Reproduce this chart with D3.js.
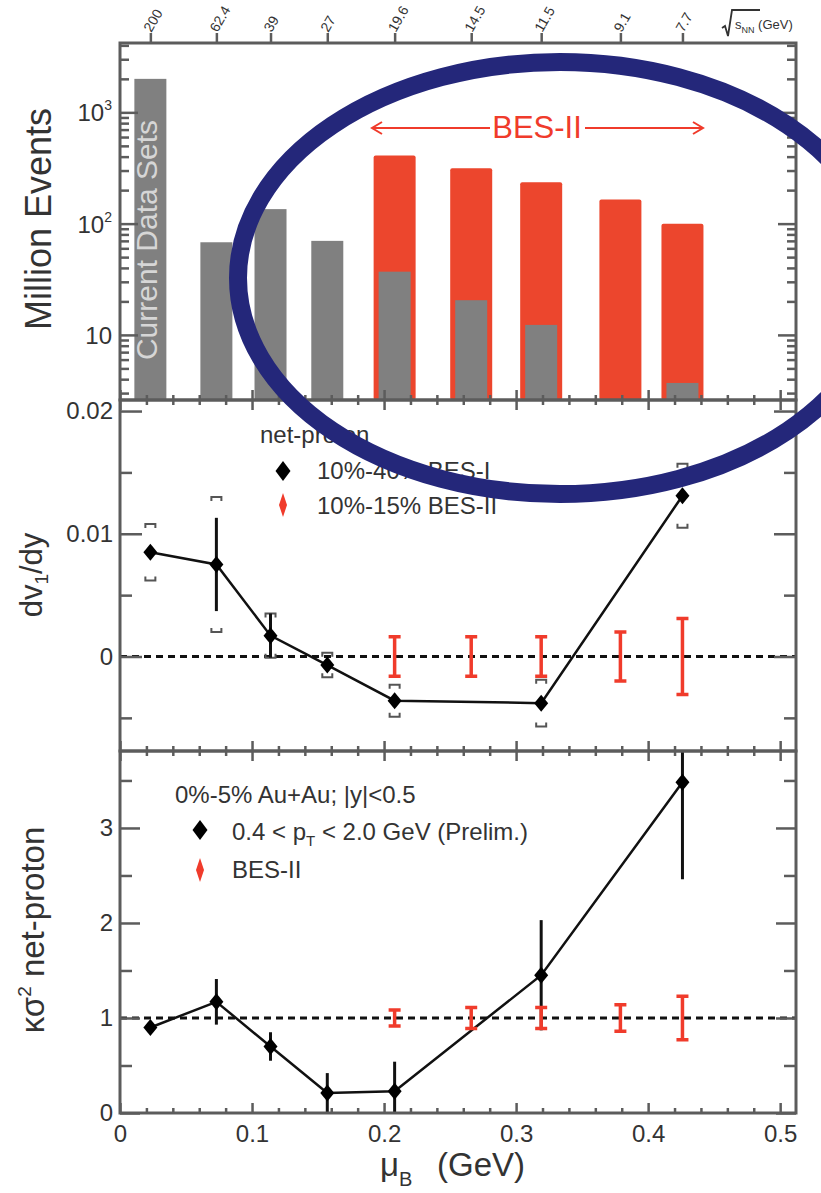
<!DOCTYPE html>
<html>
<head>
<meta charset="utf-8">
<script src="https://cdn.jsdelivr.net/npm/d3@7"></script>
<style>
  body { margin: 0; background: #fff; }
  svg { display: block; font-family: "Liberation Sans", Arial, Helvetica, sans-serif; }
</style>
</head>
<body>
<svg id="chart" width="821" height="1193"></svg>
<script>
// Collision energies (top axis) and the matching baryon chemical potential (GeV)
const energyLabels = ["200", "62.4", "39", "27", "19.6", "14.5", "11.5", "9.1", "7.7"];
const muB = [0.023, 0.073, 0.114, 0.157, 0.208, 0.266, 0.319, 0.379, 0.426];

// Event statistics (million events): existing data sets and BES-II goals
const eventsBES1 = [2000, 68, 135, 70, 37, 20.5, 12.3, null, 3.7];
const eventsBES2 = [null, null, null, null, 410, 315, 235, 165, 100];

// Net-proton directed-flow slope, 10%-40% BES-I
const dv1Value = [0.0085, 0.0075, 0.0017, -0.0007, -0.0036, null, -0.0038, null, 0.0131];
const dv1Stat  = [0.0003, 0.0038, 0.0018, 0.0003, 0.0003, null, 0.0003, null, 0.0003];
const dv1Sys   = [0.0023, 0.0055, 0.0018, 0.0010, 0.0013, null, 0.0019, null, 0.0026];
// Projected BES-II uncertainties (10%-15%), drawn around zero
const dv1ProjErr = [null, null, null, null, 0.0016, 0.0016, 0.0016, 0.0020, 0.0031];

// Net-proton kappa*sigma^2, 0%-5% Au+Au
const kappaValue = [0.90, 1.17, 0.70, 0.21, 0.23, null, 1.45, null, 3.48];
const kappaErr   = [0.06, 0.24, 0.15, 0.21, 0.31, null, 0.58, null, 1.02];
// Projected BES-II uncertainties, drawn around unity
const kappaProjErr = [null, null, null, null, 0.085, 0.11, 0.11, 0.14, 0.23];

// Axis tick values
const xMajor = [0, 0.1, 0.2, 0.3, 0.4, 0.5];
const xMinor = d3.range(1, 26).map(i => i * 0.02).filter((v, i) => (i + 1) % 5 !== 0);
const eventMajor = [10, 100, 1000];
const eventMinor = [3, 4, 5, 6, 7, 8, 9, 20, 30, 40, 50, 60, 70, 80, 90,
                    200, 300, 400, 500, 600, 700, 800, 900, 2000, 3000, 4000];
const dv1Major = [0, 0.01, 0.02];
const dv1Minor = [-0.005, 0.005, 0.015];
const kappaMajor = [0, 1, 2, 3];
const kappaMinor = [0.5, 1.5, 2.5, 3.5];

// ---- layout ----
const L = 120, R = 796;
const topP = [43, 400], midP = [400, 751], botP = [751, 1113];

const TEXT = "#333", FRAME = "#5c5c5c";
const GRAY = "#808080", RED_BAR = "#ec462d", RED = "#f03b2b";

const svg = d3.select("#chart");

const x = d3.scaleLinear().domain([0, 0.512]).range([L, R]);
const yEv = d3.scaleLog().domain([2.6, 4200]).range([topP[1], topP[0]]);
const yDv = d3.scaleLinear().domain([-0.0077, 0.0209]).range([midP[1], midP[0]]);
const yK = d3.scaleLinear().domain([0, 3.81]).range([botP[1], botP[0]]);

const idx = d3.range(muB.length);

// clip regions per panel
const defs = svg.append("defs");
[["clipTop", topP], ["clipMid", midP], ["clipBot", botP]].forEach(([id, p]) => {
  defs.append("clipPath").attr("id", id)
    .append("rect").attr("x", L).attr("y", p[0]).attr("width", R - L).attr("height", p[1] - p[0]);
});

function diamond(w, h) { return `M0,${-h}L${w},0L0,${h}L${-w},0Z`; }

// ================= top panel: event statistics =================
const gTop = svg.append("g").attr("clip-path", "url(#clipTop)");
const redW = 42, grayW = 32;

gTop.selectAll("rect.bes2").data(idx.filter(i => eventsBES2[i] != null)).join("rect")
  .attr("x", i => x(muB[i]) - redW / 2)
  .attr("y", i => yEv(eventsBES2[i]))
  .attr("width", redW)
  .attr("height", i => topP[1] - yEv(eventsBES2[i]))
  .attr("rx", 2)
  .attr("fill", RED_BAR);

gTop.selectAll("rect.bes1").data(idx.filter(i => eventsBES1[i] != null)).join("rect")
  .attr("x", i => x(muB[i]) - grayW / 2)
  .attr("y", i => yEv(eventsBES1[i]))
  .attr("width", grayW)
  .attr("height", i => topP[1] - yEv(eventsBES1[i]))
  .attr("fill", GRAY);

// label written along the tall 200 GeV bar
svg.append("text")
  .attr("transform", `translate(${x(muB[0]) + 7},240) rotate(-90)`)
  .attr("text-anchor", "middle")
  .attr("font-size", 30)
  .attr("fill", "#d6d6d6")
  .text("Current Data Sets");

// BES-II span arrow
const arrowY = 128;
const gArrow = svg.append("g").attr("stroke", RED).attr("stroke-width", 2).attr("fill", "none");
gArrow.append("path").attr("d", `M372,${arrowY}H490M382,${arrowY - 6}L372,${arrowY}L382,${arrowY + 6}`);
gArrow.append("path").attr("d", `M585,${arrowY}H703M693,${arrowY - 6}L703,${arrowY}L693,${arrowY + 6}`);
svg.append("text").attr("x", 537).attr("y", 138).attr("text-anchor", "middle")
  .attr("font-size", 31).attr("fill", RED).text("BES-II");

// ================= middle panel: dv1/dy =================
const gMid = svg.append("g").attr("clip-path", "url(#clipMid)");

gMid.append("line").attr("x1", L).attr("x2", R).attr("y1", yDv(0)).attr("y2", yDv(0))
  .attr("stroke", "#111").attr("stroke-width", 3).attr("stroke-dasharray", "7,5");

const dvIdx = idx.filter(i => dv1Value[i] != null);
gMid.append("path")
  .datum(dvIdx)
  .attr("fill", "none").attr("stroke", "#111").attr("stroke-width", 2.5)
  .attr("d", d3.line().x(i => x(muB[i])).y(i => yDv(dv1Value[i])));

// systematic brackets
dvIdx.forEach(i => {
  const cx = x(muB[i]);
  const yt = yDv(dv1Value[i] + dv1Sys[i]), yb = yDv(dv1Value[i] - dv1Sys[i]);
  gMid.append("path")
    .attr("d", `M${cx - 5},${yt + 4}V${yt}H${cx + 5}V${yt + 4}M${cx - 5},${yb - 4}V${yb}H${cx + 5}V${yb - 4}`)
    .attr("fill", "none").attr("stroke", "#555").attr("stroke-width", 2);
});

// statistical bars
gMid.selectAll("line.stat").data(dvIdx).join("line")
  .attr("x1", i => x(muB[i])).attr("x2", i => x(muB[i]))
  .attr("y1", i => yDv(dv1Value[i] + dv1Stat[i]))
  .attr("y2", i => yDv(dv1Value[i] - dv1Stat[i]))
  .attr("stroke", "#111").attr("stroke-width", 3);

gMid.selectAll("path.pt").data(dvIdx).join("path")
  .attr("transform", i => `translate(${x(muB[i])},${yDv(dv1Value[i])})`)
  .attr("d", diamond(7, 8.5)).attr("fill", "#000");

// projected BES-II errors
function projBars(g, yScale, center, errs) {
  const pIdx = idx.filter(i => errs[i] != null);
  pIdx.forEach(i => {
    const cx = x(muB[i]);
    const y1 = yScale(center + errs[i]), y2 = yScale(center - errs[i]);
    g.append("path")
      .attr("d", `M${cx},${y1}V${y2}M${cx - 6},${y1}H${cx + 6}M${cx - 6},${y2}H${cx + 6}`)
      .attr("fill", "none").attr("stroke", RED).attr("stroke-width", 3.5);
  });
}
projBars(gMid, yDv, 0, dv1ProjErr);

// legend
svg.append("text").attr("x", 260).attr("y", 443).attr("font-size", 24).attr("fill", TEXT).text("net-proton");
svg.append("path").attr("transform", "translate(283,471)").attr("d", diamond(7.5, 10)).attr("fill", "#000");
svg.append("text").attr("x", 317).attr("y", 479).attr("font-size", 24).attr("fill", TEXT).text("10%-40% BES-I");
svg.append("path").attr("transform", "translate(283,505)").attr("d", diamond(4, 12)).attr("fill", RED);
svg.append("text").attr("x", 317).attr("y", 514).attr("font-size", 24).attr("fill", TEXT).text("10%-15% BES-II");

// ================= bottom panel: kappa sigma^2 =================
const gBot = svg.append("g").attr("clip-path", "url(#clipBot)");

gBot.append("line").attr("x1", L).attr("x2", R).attr("y1", yK(1)).attr("y2", yK(1))
  .attr("stroke", "#111").attr("stroke-width", 3).attr("stroke-dasharray", "7,5");

const kIdx = idx.filter(i => kappaValue[i] != null);
gBot.append("path")
  .datum(kIdx)
  .attr("fill", "none").attr("stroke", "#111").attr("stroke-width", 2.5)
  .attr("d", d3.line().x(i => x(muB[i])).y(i => yK(kappaValue[i])));

gBot.selectAll("line.err").data(kIdx).join("line")
  .attr("x1", i => x(muB[i])).attr("x2", i => x(muB[i]))
  .attr("y1", i => yK(kappaValue[i] + kappaErr[i]))
  .attr("y2", i => yK(kappaValue[i] - kappaErr[i]))
  .attr("stroke", "#111").attr("stroke-width", 3);

gBot.selectAll("path.pt").data(kIdx).join("path")
  .attr("transform", i => `translate(${x(muB[i])},${yK(kappaValue[i])})`)
  .attr("d", diamond(7, 8.5)).attr("fill", "#000");

projBars(gBot, yK, 1, kappaProjErr);

// legend
svg.append("text").attr("x", 175).attr("y", 803).attr("font-size", 24).attr("fill", TEXT).text("0%-5% Au+Au; |y|<0.5");
svg.append("path").attr("transform", "translate(200,830)").attr("d", diamond(7.5, 10)).attr("fill", "#000");
const ptText = svg.append("text").attr("x", 232).attr("y", 840).attr("font-size", 24).attr("fill", TEXT);
ptText.append("tspan").text("0.4 < p");
ptText.append("tspan").attr("font-size", 15).attr("dy", 6).text("T");
ptText.append("tspan").attr("dy", -6).text(" < 2.0 GeV (Prelim.)");
svg.append("path").attr("transform", "translate(200,870)").attr("d", diamond(4, 12)).attr("fill", RED);
svg.append("text").attr("x", 232).attr("y", 878).attr("font-size", 24).attr("fill", TEXT).text("BES-II");

// ================= frames and axes =================
function axisGroup(gen, tx, ty) {
  const g = svg.append("g").attr("transform", `translate(${tx},${ty})`).call(gen);
  g.select(".domain").remove();
  g.selectAll(".tick line").attr("stroke", FRAME).attr("stroke-width", 2.5);
  g.selectAll(".tick text").attr("fill", TEXT).attr("font-size", 24)
    .attr("font-family", "Liberation Sans, Arial, sans-serif");
  return g;
}

// x ticks on the top and bottom edge of every panel
[topP, midP, botP].forEach((p, k) => {
  axisGroup(d3.axisBottom(x).tickValues(xMinor).tickSize(-5).tickFormat(""), 0, p[1]);
  axisGroup(d3.axisBottom(x).tickValues(xMajor).tickSize(-10).tickPadding(12)
    .tickFormat(k === 2 ? d3.format("") : () => ""), 0, p[1]);
  if (k > 0) {
    axisGroup(d3.axisTop(x).tickValues(xMinor).tickSize(-5).tickFormat(""), 0, p[0]);
    axisGroup(d3.axisTop(x).tickValues(xMajor).tickSize(-10).tickFormat(""), 0, p[0]);
  }
});

// y axes (left labelled, right mirrored)
function yAxes(scale, major, minor, majLen, minLen, fmt) {
  axisGroup(d3.axisLeft(scale).tickValues(minor).tickSize(-minLen).tickFormat(""), L, 0);
  axisGroup(d3.axisLeft(scale).tickValues(major).tickSize(-majLen).tickPadding(7).tickFormat(fmt), L, 0);
  axisGroup(d3.axisRight(scale).tickValues(minor).tickSize(-minLen).tickFormat(""), R, 0);
  axisGroup(d3.axisRight(scale).tickValues(major).tickSize(-majLen).tickFormat(""), R, 0);
}
yAxes(yEv, eventMajor, eventMinor, 18, 9, () => "");
yAxes(yDv, dv1Major, dv1Minor, 22, 12, d => d === 0 ? "0" : d3.format(".2f")(d));
yAxes(yK, kappaMajor, kappaMinor, 20, 12, d3.format("d"));

// log axis labels with exponents
eventMajor.forEach(v => {
  const t = svg.append("text").attr("x", 112).attr("y", yEv(v) + 9)
    .attr("text-anchor", "end").attr("font-size", 24).attr("fill", TEXT);
  if (v === 10) { t.text("10"); return; }
  t.append("tspan").text("10");
  t.append("tspan").attr("font-size", 14).attr("dy", -11).text(String(Math.round(Math.log10(v))));
});

// energy axis along the top edge
axisGroup(d3.axisTop(x).tickValues(muB).tickSize(10).tickFormat(""), 0, topP[0]);
svg.selectAll("text.energy").data(idx).join("text")
  .attr("transform", i => `translate(${x(muB[i]) + 1},${topP[0] - 10}) rotate(-60)`)
  .attr("font-size", 14).attr("fill", TEXT)
  .text(i => energyLabels[i]);

const sq = svg.append("g").attr("fill", TEXT);
sq.append("path").attr("d", "M722,28L725,26L728,36L732,10H760")
  .attr("fill", "none").attr("stroke", TEXT).attr("stroke-width", 1.8);
const sqText = sq.append("text").attr("x", 735).attr("y", 29).attr("font-size", 13);
sqText.append("tspan").text("s");
sqText.append("tspan").attr("font-size", 9).attr("dy", 4).text("NN");
sqText.append("tspan").attr("dy", -4).text(" (GeV)");

// frames
[topP, midP, botP].forEach(p => {
  svg.append("rect").attr("x", L).attr("y", p[0]).attr("width", R - L).attr("height", p[1] - p[0])
    .attr("fill", "none").attr("stroke", FRAME).attr("stroke-width", 3);
});

// axis titles
svg.append("text").attr("transform", "translate(51,219) rotate(-90)")
  .attr("text-anchor", "middle").attr("font-size", 36).attr("fill", TEXT).text("Million Events");

const dvT = svg.append("text").attr("transform", "translate(42,575) rotate(-90)")
  .attr("text-anchor", "middle").attr("font-size", 31).attr("fill", TEXT);
dvT.append("tspan").text("dv");
dvT.append("tspan").attr("font-size", 19).attr("dy", 6).text("1");
dvT.append("tspan").attr("dy", -6).text("/dy");

const kT = svg.append("text").attr("transform", "translate(44,930) rotate(-90)")
  .attr("text-anchor", "middle").attr("font-size", 33).attr("fill", TEXT);
kT.append("tspan").text("κσ");
kT.append("tspan").attr("font-size", 19).attr("dy", -13).text("2");
kT.append("tspan").attr("dy", 13).text(" net-proton");

const muT = svg.append("text").attr("x", 380).attr("y", 1176).attr("font-size", 33).attr("fill", TEXT);
muT.append("tspan").text("μ");
muT.append("tspan").attr("font-size", 20).attr("dy", 10).text("B");
muT.append("tspan").attr("dy", -10).attr("x", 437).text("(GeV)");

// highlight ring around the BES-II region
svg.append("ellipse")
  .attr("cx", 560).attr("cy", 278).attr("rx", 322).attr("ry", 216)
  .attr("fill", "none").attr("stroke", "#24277a").attr("stroke-width", 18);
</script>
</body>
</html>
